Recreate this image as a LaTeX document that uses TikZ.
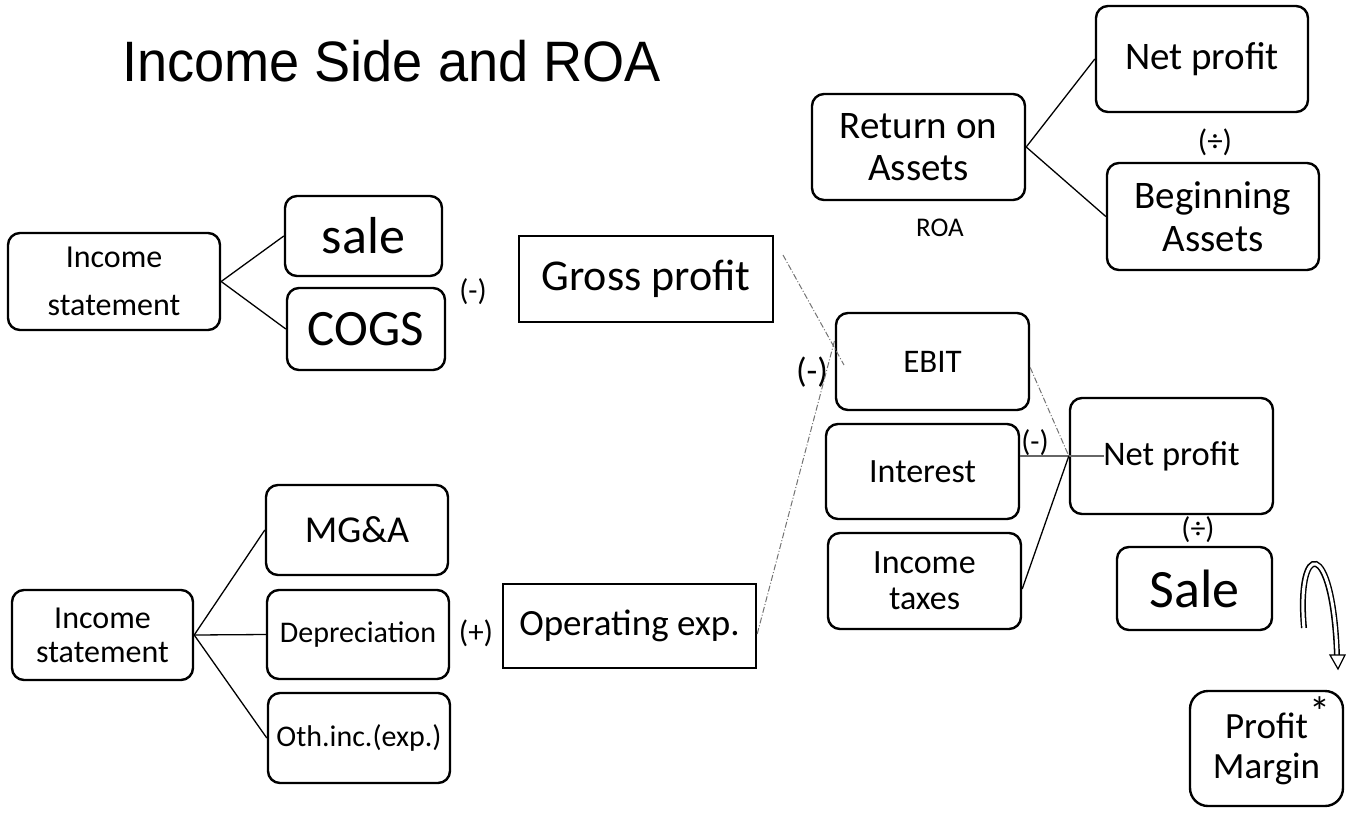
\documentclass[tikz,border=0pt]{standalone}
\usepackage{fontspec}
\setmainfont{Carlito}
\newfontfamily\titlefont{Liberation Sans}
\usetikzlibrary{arrows.meta}
\tikzset{
  rbox/.style={draw, line width=2.4pt, rounded corners=12pt, align=center, inner sep=0pt},
  sbox/.style={draw, line width=2.4pt, align=center, inner sep=0pt},
  link/.style={line width=1.3pt},
  dlink/.style={line width=1pt, draw=black!55, dash pattern=on 6pt off 2pt on 1pt off 2pt},
  op/.style={inner sep=0pt, font=\fontsize{30}{32}\selectfont},
}
\newcommand{\fs}[2]{\fontsize{#1}{#2}\selectfont}
\begin{document}
\begin{tikzpicture}[x=1pt,y=-1pt]
\useasboundingbox (0,0) rectangle (1346,812);
\node[anchor=base west, inner sep=0pt, xscale=0.95, font=\titlefont\fs{57}{60}] (title) at (122,81) {Income Side and ROA};

% left top
\node[rbox, minimum width=212pt, minimum height=97pt, font=\fs{32}{48}] (is1) at (114,281.5) {Income\\statement};
\node[rbox, minimum width=157pt, minimum height=80pt, font=\fs{52}{55}] (sale) at (363.5,236) {sale};
\node[rbox, minimum width=158pt, minimum height=82pt, font=\fs{51}{55}] (cogs) at (366,329) {COGS};
\node[op] (m1) at (473,292) {(-)};
\node[sbox, minimum width=254pt, minimum height=86pt, font=\fs{44}{46}] (gross) at (646,279) {Gross profit};

% left bottom
\node[rbox, minimum width=181pt, minimum height=90pt, font=\fs{32}{34}] (is2) at (102.5,635) {Income\\statement};
\node[rbox, minimum width=182pt, minimum height=90pt, font=\fs{38}{40}] (mga) at (357,530) {MG\&A};
\node[rbox, minimum width=182pt, minimum height=89pt, font=\fs{30}{32}] (dep) at (358,634.5) {Depreciation};
\node[rbox, minimum width=182pt, minimum height=90pt, font=\fs{30}{32}] (oth) at (359,738) {Oth.inc.(exp.)};
\node[op, font=\fs{31}{32}] (p1) at (476,633) {(+)};
\node[sbox, minimum width=253pt, minimum height=84pt, font=\fs{37}{40}] (opex) at (629.5,626) {Operating exp.};

% middle
\node[rbox, minimum width=193pt, minimum height=97pt, font=\fs{33}{35}] (ebit) at (932.5,361.5) {EBIT};
\node[op, font=\fs{35}{36}] (m2) at (812,372) {(-)};
\node[rbox, minimum width=193pt, minimum height=95pt, font=\fs{34}{36}] (int) at (922.5,471.5) {Interest};
\node[rbox, minimum width=193pt, minimum height=96pt, font=\fs{34}{36}] (tax) at (924.5,581) {Income\\taxes};
\node[op] (m3) at (1035,443) {(-)};

% right
\node[rbox, minimum width=203pt, minimum height=116pt, font=\fs{34.5}{36}] (np2) at (1171.5,456) {Net profit};
\node[op] (d2) at (1198,530) {(÷)};
\node[rbox, minimum width=155pt, minimum height=83pt, font=\fs{54}{56}] (sale2) at (1194.5,588.5) {Sale};
\node[rbox, rounded corners=18pt, minimum width=153pt, minimum height=115pt, font=\fs{37}{40}] (pm) at (1266.5,748.5) {Profit\\Margin};
\node[inner sep=0pt, font=\fs{42}{42}] (star) at (1320,712) {*};

% ROA
\node[rbox, minimum width=213pt, minimum height=106pt, font=\fs{39}{42}] (roa) at (918.5,147) {Return on\\Assets};
\node[inner sep=0pt, font=\fs{27}{28}] (roalbl) at (940,228) {ROA};
\node[rbox, minimum width=212pt, minimum height=106pt, font=\fs{39}{42}] (np1) at (1202,59) {Net profit};
\node[op, font=\fs{31}{32}] (d1) at (1215,142) {(÷)};
\node[rbox, minimum width=212pt, minimum height=107pt, font=\fs{39}{43}] (ba) at (1213,216.5) {Beginning\\Assets};

% connectors
\draw[link] (is1.east) -- (sale.west);
\draw[link] (is1.east) -- (cogs.west);
\draw[link] (is2.east) -- (mga.west);
\draw[link] (is2.east) -- (dep.west);
\draw[link] (is2.east) -- (oth.west);
\draw[link] (roa.east) -- (np1.west);
\draw[link] (roa.east) -- (ba.west);

\coordinate (gpout) at (783,255);
\coordinate (ebitin) at (844,365);
\coordinate (ebitlow) at ([yshift=22pt]ebit.west);
\coordinate (ebitout) at ([yshift=-6pt]ebit.east);
\coordinate (opout) at ([yshift=-8pt]opex.east);
\draw[dlink] (gpout) -- (ebitin);
\draw[dlink] (opout) -- (ebitlow);
\draw[dlink] (ebitout) -- (np2.west);
\coordinate (intout) at (int.east |- np2.west);
\coordinate (nptext) at (1104,456);
\draw[link, draw=black!60] (intout) -- (nptext);
\coordinate (taxout) at ([yshift=-8pt]tax.east);
\draw[link] (taxout) -- (np2.west);

% curved hollow arrow
\coordinate (ca) at (1304,628);
\coordinate (cb) at (1337,656);
\draw[line width=6pt, line cap=butt] (ca) .. controls (1296,540) and (1333,536) .. (cb);
\draw[line width=3pt, white, line cap=butt] ([yshift=-1pt]ca) .. controls (1296,540) and (1333,536) .. ([yshift=1pt]cb);
\draw[line width=1.2pt, fill=white] (1330,655) -- (1345,655) -- (1338,669) -- cycle;
\end{tikzpicture}
\end{document}
